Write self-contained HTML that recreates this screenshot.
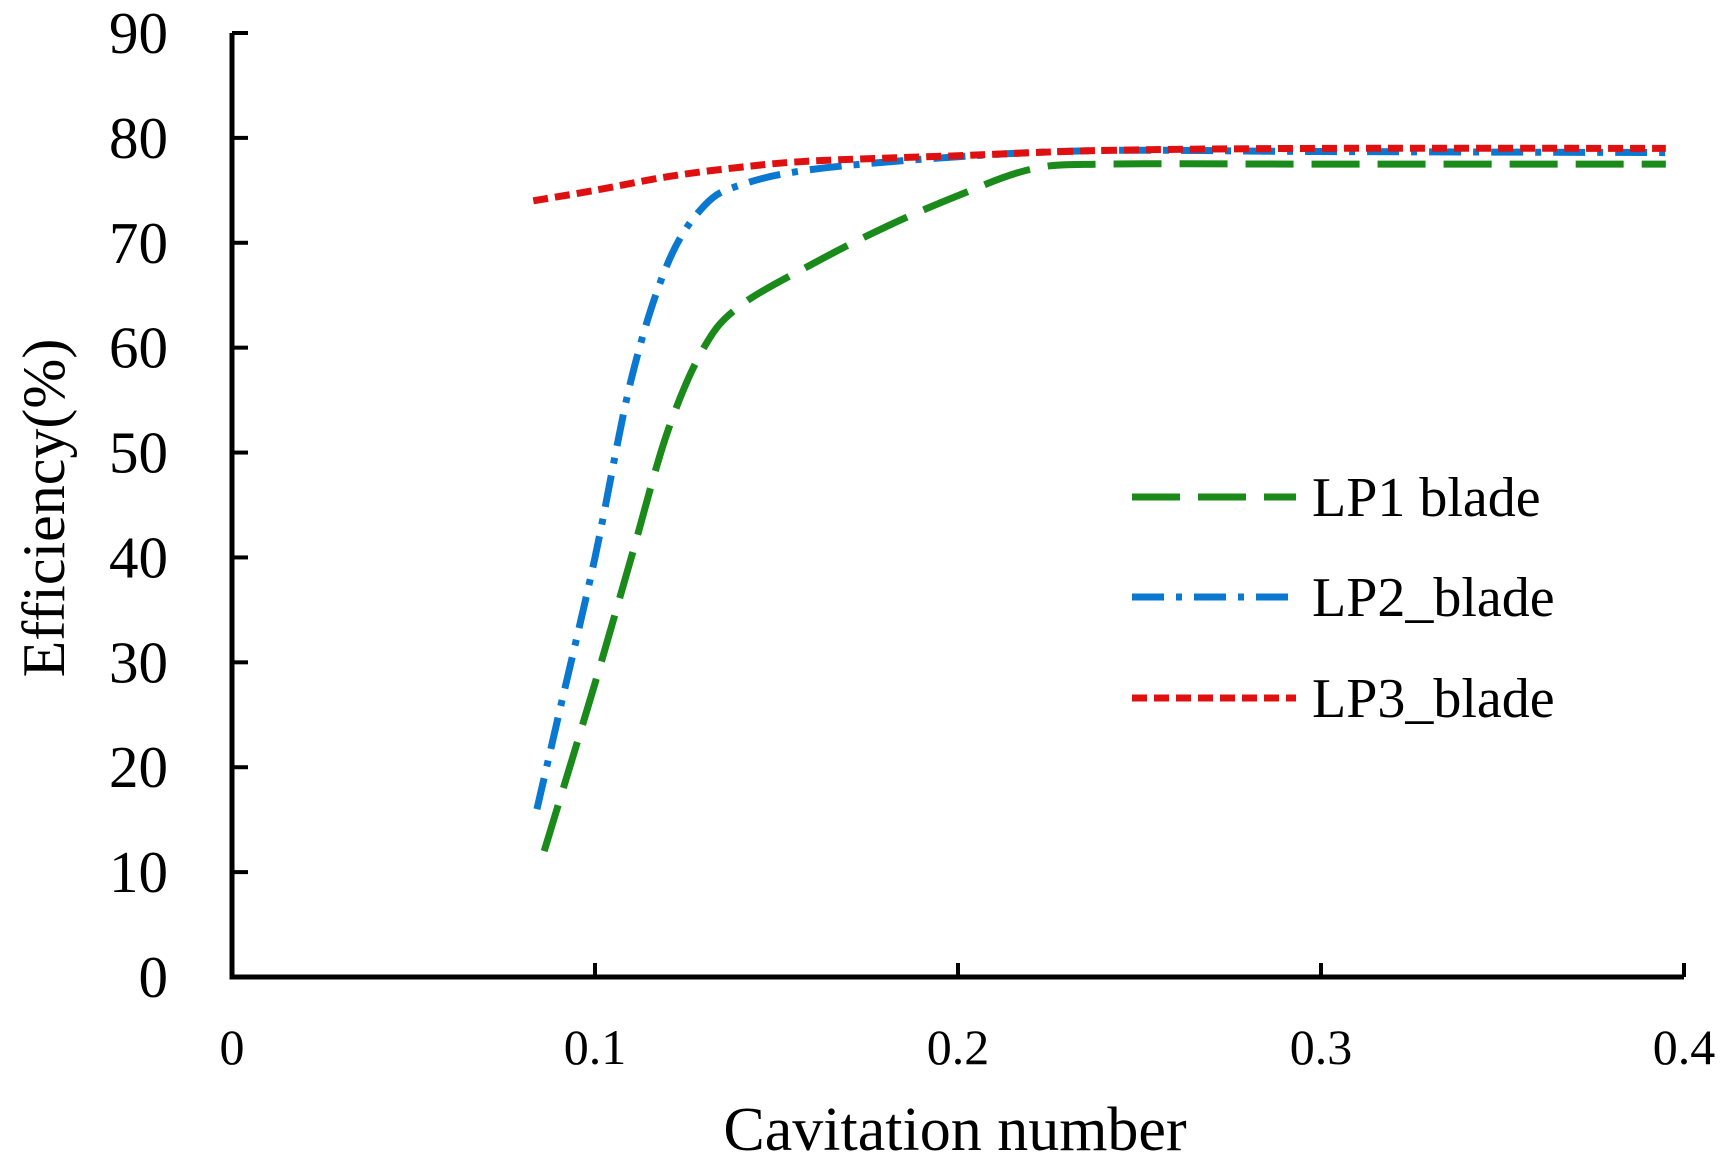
<!DOCTYPE html>
<html><head><meta charset="utf-8"><style>
html,body{margin:0;padding:0;background:#fff;}
svg{display:block;font-family:"Liberation Serif",serif;}
</style></head><body>
<svg id="chart" width="1731" height="1157" viewBox="0 0 1731 1157" xmlns="http://www.w3.org/2000/svg">
<g id="axes"></g>
<g id="series"></g>
<g id="legend"></g>
<text x="955" y="1150" font-size="62" text-anchor="middle">Cavitation number</text>
<text transform="translate(64,508) rotate(-90)" font-size="60" text-anchor="middle">Efficiency(%)</text>
</svg>
<script>
const xTicks=[0,0.1,0.2,0.3,0.4];
const xTickLabels=["0","0.1","0.2","0.3","0.4"];
const yTicks=[0,10,20,30,40,50,60,70,80,90];
const yTickLabels=["0","10","20","30","40","50","60","70","80","90"];
const seriesNames=["LP1 blade","LP2_blade","LP3_blade"];
const lp1X=[0.086,0.1,0.11,0.12,0.13,0.14,0.16,0.18,0.2,0.22,0.24,0.3,0.395];
const lp1Y=[12,28,40,52,60,64,68,71.5,74.5,77,77.5,77.5,77.5];
const lp2X=[0.084,0.09,0.1,0.11,0.12,0.13,0.14,0.16,0.2,0.24,0.3,0.395];
const lp2Y=[16,25,40,57,68,73.5,75.5,77,78.2,78.8,78.7,78.6];
const lp3X=[0.083,0.1,0.12,0.14,0.16,0.2,0.24,0.3,0.395];
const lp3Y=[74,75,76.3,77.2,77.8,78.3,78.8,79,79];

const NS="http://www.w3.org/2000/svg";
const X0=232,X1=1684,Y0=977,Y1=33;
function sx(v){return X0+(v-0)/(0.4-0)*(X1-X0);}
function sy(v){return Y0-(v-0)/(90-0)*(Y0-Y1);}
function mk(tag,attrs,parent){const e=document.createElementNS(NS,tag);for(const k in attrs)e.setAttribute(k,attrs[k]);parent.appendChild(e);return e;}
const axes=document.getElementById('axes');
let l=mk('line',{x1:X0,y1:Y1,x2:X0,y2:Y0+2.5,stroke:'#000','stroke-width':5},axes);


l=mk('line',{x1:X0-2.5,y1:Y0,x2:X1,y2:Y0,stroke:'#000','stroke-width':5},axes);


yTicks.forEach((v,i)=>{
  const t=mk('line',{x1:X0,y1:sy(v),x2:X0+16,y2:sy(v),stroke:'#000','stroke-width':4},axes);
  
  
  const tx=mk('text',{x:168,y:sy(v)+20,'font-size':59,'text-anchor':'end'},axes);
  tx.textContent=yTickLabels[i];
  
  
});
xTicks.forEach((v,i)=>{
  const t=mk('line',{x1:sx(v),y1:Y0,x2:sx(v),y2:Y0-14,stroke:'#000','stroke-width':4},axes);
  
  
  const tx=mk('text',{x:sx(v),y:1064,'font-size':50,'text-anchor':'middle'},axes);
  tx.textContent=xTickLabels[i];
  
  
});
function smooth(xs,ys){
  const p=xs.map((x,i)=>[sx(x),sy(ys[i])]);
  let d='M'+p[0][0]+','+p[0][1];
  for(let i=0;i<p.length-1;i++){
    const p0=p[i-1]||p[i],p1=p[i],p2=p[i+1],p3=p[i+2]||p2;
    const c1=[p1[0]+(p2[0]-p0[0])/6,p1[1]+(p2[1]-p0[1])/6];
    const c2=[p2[0]-(p3[0]-p1[0])/6,p2[1]-(p3[1]-p1[1])/6];
    d+=' C'+c1+' '+c2+' '+p2;
  }
  return d;
}
const styles=[
  {c:'#1a8a1a',dash:'48 18',w:7},
  {c:'#0a78d0',dash:'32 12 6 12',w:7},
  {c:'#e01010',dash:'15 7',w:7}];
const data=[[lp1X,lp1Y],[lp2X,lp2Y],[lp3X,lp3Y]];
const ser=document.getElementById('series');
const names=['lp1-line','lp2-line','lp3-line'];
data.forEach((dd,i)=>{
  const p=mk('path',{d:smooth(dd[0],dd[1]),fill:'none',stroke:styles[i].c,'stroke-width':styles[i].w,'stroke-dasharray':styles[i].dash},ser);
  
  
});
const leg=document.getElementById('legend');
const ly=[497,597,698];
seriesNames.forEach((n,i)=>{
  const g=mk('g',{},leg);
  
  
  mk('line',{x1:1132,y1:ly[i],x2:1296,y2:ly[i],stroke:styles[i].c,'stroke-width':styles[i].w,'stroke-dasharray':styles[i].dash},g);
  const t=mk('text',{x:1312,y:ly[i]+19,'font-size':56},g);
  t.textContent=n;
});
</script>
</body></html>
